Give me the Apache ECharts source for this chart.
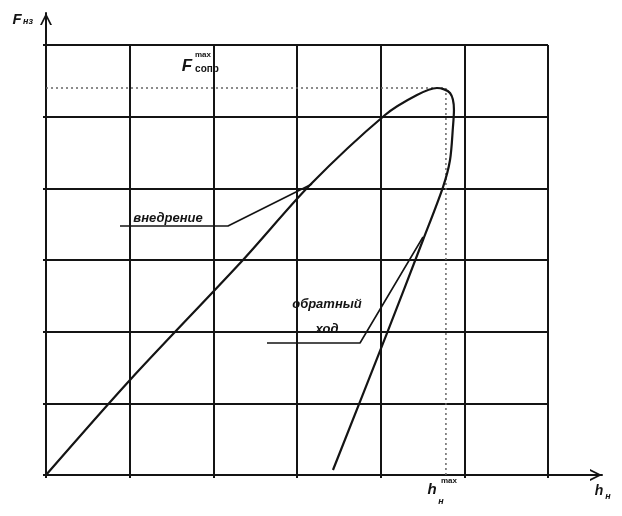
<!DOCTYPE html>
<html><head><meta charset="utf-8">
<script src="https://cdn.jsdelivr.net/npm/echarts@6/dist/echarts.min.js"></script>
<style>html,body{margin:0;padding:0;background:#fff}#c{width:622px;height:516px}</style>
</head><body><div id="c"></div>
<script>
// Loading branch ("внедрение") — h (grid units), F (grid units)
const loadH = [0, 1.004, 2.354, 3.155, 4.052, 4.434, 4.673];
const loadF = [0, 1.326, 3.0, 4.046, 5.023, 5.302, 5.40];
// Unloading branch ("обратный ход")
const unloadH = [4.829, 4.876, 4.864, 4.829, 4.745, 4.506, 4.076, 3.430];
const unloadF = [5.33, 5.093, 4.856, 4.395, 4.018, 3.279, 1.981, 0.07];
// Maximum values (dashed guides)
const fMax = 5.40;
const hMax = 4.78;
// Leader lines for the labels
const leaderVnedH = [0.884, 2.175, 3.179];
const leaderVnedF = [3.474, 3.474, 4.06];
const leaderObrH = [2.641, 3.753, 4.506];
const leaderObrF = [1.842, 1.842, 3.321];
// Axis range (grid cells)
const axisMin = 0, axisMax = 6, axisStep = 1;

const zip = (a, b) => a.map((v, i) => [v, b[i]]);
const curve = zip(loadH, loadF).concat(zip(unloadH, unloadF));
const ink = '#141414';
const chevron = 'path://M0,10 L5,0 L10,10 L8.4,10 L5,3.2 L1.6,10 Z';
const font = '"Liberation Sans", Arial, sans-serif';

const chart = echarts.init(document.getElementById('c'), null, {renderer: 'canvas'});
const txt = (x, y, text, size, extra) => ({
  type: 'text', x, y, z: 100,
  style: Object.assign({text, fill: ink, font: `italic bold ${size}px ${font}`,
    textAlign: 'center', textVerticalAlign: 'middle'}, extra || {})
});
chart.setOption({
  animation: false,
  backgroundColor: '#fff',
  grid: [
    {left: 46, top: 45, right: 74, bottom: 41, containLabel: false, outerBoundsMode: 'none'},
    {left: 46, top: 13, right: 20, bottom: 41, containLabel: false, outerBoundsMode: 'none'}
  ],
  xAxis: [
    {type: 'value', gridIndex: 0, min: axisMin, max: axisMax, interval: axisStep,
     axisLine: {show: true, lineStyle: {color: ink, width: 2}},
     axisTick: {show: true, length: 3, lineStyle: {color: ink, width: 2}},
     axisLabel: {show: false},
     splitLine: {show: true, lineStyle: {color: ink, width: 2}}},
    {type: 'value', gridIndex: 1, min: 0, max: 1,
     axisLine: {show: true, symbol: ['none', chevron], symbolSize: [13, 12], symbolOffset: [0, -6],
       lineStyle: {color: ink, width: 2}},
     axisTick: {show: false}, axisLabel: {show: false}, splitLine: {show: false}}
  ],
  yAxis: [
    {type: 'value', gridIndex: 0, min: axisMin, max: axisMax, interval: axisStep,
     axisLine: {show: true, lineStyle: {color: ink, width: 2}},
     axisTick: {show: true, length: 3, lineStyle: {color: ink, width: 2}},
     axisLabel: {show: false},
     splitLine: {show: true, lineStyle: {color: ink, width: 2}}},
    {type: 'value', gridIndex: 1, min: 0, max: 1,
     axisLine: {show: true, symbol: ['none', chevron], symbolSize: [12, 12], symbolOffset: [0, -6],
       lineStyle: {color: ink, width: 2}},
     axisTick: {show: false}, axisLabel: {show: false}, splitLine: {show: false}}
  ],
  series: [
    {type: 'line', xAxisIndex: 0, yAxisIndex: 0, data: [[0, fMax], [hMax, fMax]],
     showSymbol: false, lineStyle: {color: '#666', width: 1.5, type: [2, 3]}, z: 3},
    {type: 'line', xAxisIndex: 0, yAxisIndex: 0, data: [[hMax, fMax], [hMax, 0]],
     showSymbol: false, lineStyle: {color: '#666', width: 1.5, type: [2, 3]}, z: 3},
    {type: 'line', xAxisIndex: 0, yAxisIndex: 0, data: curve, smooth: 0.3,
     showSymbol: false, lineStyle: {color: ink, width: 2.2}, z: 5},
    {type: 'line', xAxisIndex: 0, yAxisIndex: 0, data: zip(leaderVnedH, leaderVnedF),
     showSymbol: false, lineStyle: {color: ink, width: 1.6}, z: 4},
    {type: 'line', xAxisIndex: 0, yAxisIndex: 0, data: zip(leaderObrH, leaderObrF),
     showSymbol: false, lineStyle: {color: ink, width: 1.6}, z: 4}
  ],
  graphic: [
    txt(17, 20, 'F', 15),
    txt(28, 22, 'нз', 9),
    txt(187, 66, 'F', 17),
    txt(203, 55, 'max', 8, {font: `bold 8px ${font}`}),
    txt(207, 69, 'сопр', 10, {font: `bold 10px ${font}`}),
    txt(168, 218, 'внедрение', 13),
    txt(327, 304, 'обратный', 13),
    txt(327, 329, 'ход', 13),
    txt(432, 490, 'h', 15),
    txt(449, 481, 'max', 8, {font: `bold 8px ${font}`}),
    txt(441, 502, 'н', 9),
    txt(599, 491, 'h', 14),
    txt(608, 497, 'н', 9)
  ]
});
</script></body></html>
